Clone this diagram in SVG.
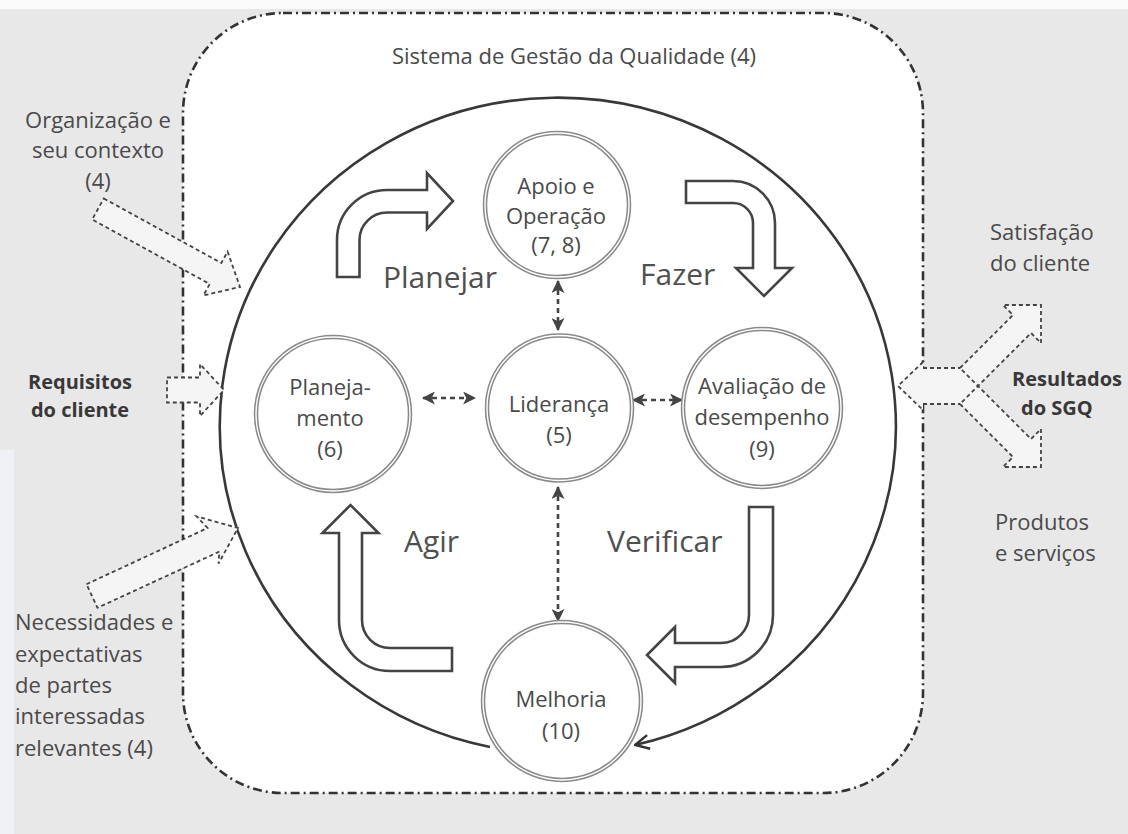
<svg xmlns="http://www.w3.org/2000/svg" width="1128" height="834" viewBox="0 0 1128 834">
<style>
text{font-family:"Open Sans","Liberation Sans",sans-serif;fill:#4a4a4a;font-size:22px}
.b{font-weight:bold;fill:#383838;font-size:20px}
.big{font-size:30px;fill:#505050}
.c{text-anchor:middle}
.node-ring{fill:#fff;stroke:#8a8a8a;stroke-width:4.5}
.node-inner{fill:none;stroke:#fff;stroke-width:1.4}
.pdca{fill:#fff;stroke:#444;stroke-width:2.6;stroke-linejoin:miter}
.io-fill{fill:#f5f5f5;stroke:none}
.io{fill:none;stroke:#444;stroke-width:1.8;stroke-dasharray:4 3}
.dash{fill:none;stroke:#444;stroke-width:2.6;stroke-dasharray:5 4}
</style>
<defs>
<marker id="ah" viewBox="0 0 12 12" markerWidth="13" markerHeight="13" refX="11" refY="6" orient="auto-start-reverse" markerUnits="userSpaceOnUse">
<path d="M0,0 L12,6 L0,12 L3,6 Z" fill="#444"/>
</marker>
<marker id="open" viewBox="0 0 16 16" markerWidth="16" markerHeight="16" refX="15" refY="8" orient="auto" markerUnits="userSpaceOnUse">
<path d="M1,1 L15,8 L1,15" fill="none" stroke="#333" stroke-width="2.4"/>
</marker>
</defs>

<rect x="0" y="0" width="1128" height="834" fill="#e8e8e8"/>
<rect x="0" y="0" width="1128" height="9" fill="#fbfbfb"/>
<rect x="0" y="450" width="14" height="384" fill="#eef2f7"/>

<g id="sistema">
<rect x="183" y="13" width="740" height="780" rx="100" ry="100" fill="#fff" stroke="#333" stroke-width="2.6" stroke-dasharray="9 4 2 4"/>
<text class="c" x="574" y="64">Sistema de Gestão da Qualidade (4)</text>
</g>

<g id="connectors">
<path d="M490,747 A338,328 0 1 1 635,745" fill="none" stroke="#383838" stroke-width="2.6" marker-end="url(#open)"/>
<line class="dash" x1="558" y1="281" x2="558" y2="330" marker-start="url(#ah)" marker-end="url(#ah)"/>
<line class="dash" x1="558" y1="487" x2="558" y2="621" marker-start="url(#ah)" marker-end="url(#ah)"/>
<line class="dash" x1="423" y1="398" x2="475" y2="398" marker-start="url(#ah)" marker-end="url(#ah)"/>
<line class="dash" x1="633" y1="400" x2="682" y2="400" marker-start="url(#ah)" marker-end="url(#ah)"/>
</g>

<g id="input-organizacao">
<polygon class="io-fill" points="103.8,198.5 221.3,263 227.6,251.6 240,287 203.4,295.4 209.7,284 92.2,219.5"/>
<polygon class="io" points="103.8,198.5 221.3,263 227.6,251.6 240,287 203.4,295.4 209.7,284 92.2,219.5"/>
<text class="c" x="98" y="128">Organização e</text>
<text class="c" x="98" y="158">seu contexto</text>
<text class="c" x="98" y="189">(4)</text>
</g>

<g id="input-requisitos">
<polygon class="io-fill" points="167,377.5 200,377.5 200,364 224,390 200,416 200,402.5 167,402.5"/>
<polygon class="io" points="167,377.5 200,377.5 200,364 224,390 200,416 200,402.5 167,402.5"/>
<text class="c b" x="80" y="389">Requisitos</text>
<text class="c b" x="80" y="417">do cliente</text>
</g>

<g id="input-necessidades">
<polygon class="io-fill" points="86.5,584.2 207.5,528 196.6,516.4 238,528 218.5,563.6 219.4,551.6 97.5,607.8"/>
<polygon class="io" points="86.5,584.2 207.5,528 196.6,516.4 238,528 218.5,563.6 219.4,551.6 97.5,607.8"/>
<text x="15" y="630">Necessidades e</text>
<text x="15" y="662">expectativas</text>
<text x="15" y="693">de partes</text>
<text x="15" y="724">interessadas</text>
<text x="15" y="756">relevantes (4)</text>
</g>

<g id="output-resultados">
<rect class="io-fill" x="918" y="368" width="44" height="36"/>
<polygon class="io-fill" points="923,362 898,386 923,410"/>
<polygon class="io-fill" points="960,368 1013,315 1003,305 1041,305 1041,343 1031,333 960,404"/>
<polygon class="io-fill" points="960,404 1013,457 1003,467 1041,467 1041,429 1031,439 960,368"/>
<path class="io" d="M923,362 L898,386 L923,410 M923,368 H960 M923,404 H960"/>
<path class="io" d="M960,368 L1013,315 L1003,305 L1041,305 L1041,343 L1031,333 L960,404"/>
<path class="io" d="M960,404 L1013,457 L1003,467 L1041,467 L1041,429 L1031,439 L960,368"/>
<text x="990" y="240">Satisfação</text>
<text x="990" y="271">do cliente</text>
<text class="b" x="1012" y="386">Resultados</text>
<text class="b" x="1021" y="415">do SGQ</text>
<text x="995" y="530">Produtos</text>
<text x="995" y="561">e serviços</text>
</g>

<g id="pdca">
<g id="planejar">
<path class="pdca" d="M337,277 V240 A50,50 0 0 1 387,190 H427 V173 L453,201 L427,229 V212.5 H387 A27.5,27.5 0 0 0 359.5,240 V277 Z"/>
<text class="big" x="383" y="288">Planejar</text>
</g>
<g id="fazer">
<path class="pdca" d="M686,181 H733 A42,42 0 0 1 775,223 V268 H792 L764,296 L736,268 H753 V223 A20,20 0 0 0 733,203 H686 Z"/>
<text class="big" x="640" y="285">Fazer</text>
</g>
<g id="verificar">
<path class="pdca" d="M749,507 H773 V615 A52,52 0 0 1 721,667 H675 V683 L647,655 L675,627 V643 H721 A28,28 0 0 0 749,615 Z"/>
<text class="big" x="607" y="552">Verificar</text>
</g>
<g id="agir">
<path class="pdca" d="M452,671 H390 A51,51 0 0 1 339,620 V533 H322.5 L350.5,505 L378.5,533 H362 V620 A28,28 0 0 0 390,648 H452 Z"/>
<text class="big" x="404" y="552">Agir</text>
</g>
</g>

<g id="node-apoio">
<circle class="node-ring" cx="557" cy="205" r="72"/>
<circle class="node-inner" cx="557" cy="205" r="72"/>
<text class="c" x="556" y="194">Apoio e</text>
<text class="c" x="556" y="224">Operação</text>
<text class="c" x="556" y="253">(7, 8)</text>
</g>

<g id="node-planejamento">
<circle class="node-ring" cx="333" cy="414" r="77"/>
<circle class="node-inner" cx="333" cy="414" r="77"/>
<text class="c" x="330" y="395">Planeja-</text>
<text class="c" x="330" y="426">mento</text>
<text class="c" x="330" y="457">(6)</text>
</g>

<g id="node-lideranca">
<circle class="node-ring" cx="559.5" cy="408" r="72.5"/>
<circle class="node-inner" cx="559.5" cy="408" r="72.5"/>
<text class="c" x="559" y="412">Liderança</text>
<text class="c" x="559" y="443">(5)</text>
</g>

<g id="node-avaliacao">
<circle class="node-ring" cx="762" cy="408" r="79"/>
<circle class="node-inner" cx="762" cy="408" r="79"/>
<text class="c" x="762" y="394">Avaliação de</text>
<text class="c" x="762" y="425">desempenho</text>
<text class="c" x="762" y="457">(9)</text>
</g>

<g id="node-melhoria">
<circle class="node-ring" cx="562" cy="701" r="79"/>
<circle class="node-inner" cx="562" cy="701" r="79"/>
<text class="c" x="561" y="707">Melhoria</text>
<text class="c" x="561" y="739">(10)</text>
</g>
</svg>
